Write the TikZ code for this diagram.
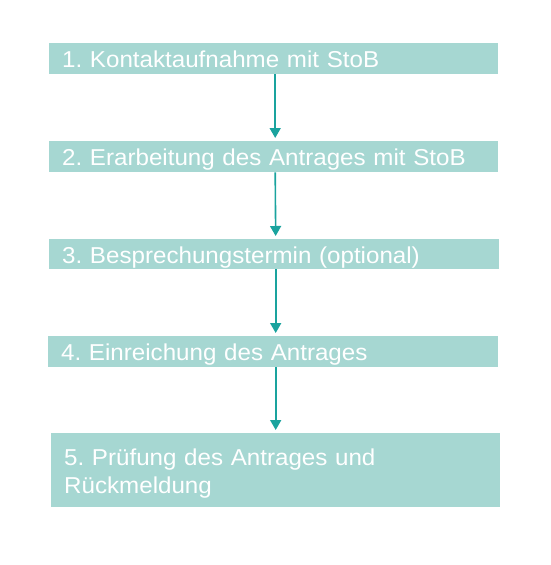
\documentclass[tikz,border=0pt]{standalone}
\usepackage{fontspec}
\setmainfont{Liberation Sans}[FakeStretch=1.05]
\usetikzlibrary{arrows.meta}
\definecolor{boxfill}{HTML}{A6D7D2}
\definecolor{arrowcol}{HTML}{1AA39E}
\begin{document}
\begin{tikzpicture}[x=1pt,y=-1pt,
  stepbox/.style={fill=boxfill, draw=none, anchor=north west, inner xsep=13pt, inner ysep=0pt,
    text=white, font=\fontsize{23}{28.3}\selectfont\frenchspacing, align=left},
  oneline/.style={text height=18pt, text depth=0pt},
  arr/.style={draw=arrowcol, line width=1.6pt, -{Triangle[width=11pt,length=10pt]}, shorten >=3pt}]
\useasboundingbox (0,0) rectangle (550,565);
\node[stepbox, oneline, minimum width=449pt, minimum height=31pt, text width=423pt] (b1) at (49,43) {1. Kontaktaufnahme mit StoB};
\node[stepbox, oneline, minimum width=449pt, minimum height=31pt, text width=423pt] (b2) at (49,141) {2. Erarbeitung des Antrages mit StoB};
\node[stepbox, oneline, minimum width=450pt, minimum height=30pt, text width=424pt] (b3) at (49,239) {3. Besprechungstermin (optional)};
\node[stepbox, oneline, minimum width=450pt, minimum height=31pt, text width=424pt] (b4) at (48,336) {4. Einreichung des Antrages};
\node[stepbox, minimum width=449pt, minimum height=74pt, text width=423pt, text height=20pt, text depth=29.2pt] (b5) at (51,433) {5. Prüfung des Antrages und\\Rückmeldung};
\draw[arr] ([xshift=1.5pt]b1.south) -- ([xshift=1.5pt]b2.north);
\draw[arr] ([xshift=1.5pt]b2.south) -- ([xshift=1.5pt]b3.north);
\draw[arr] ([xshift=1.5pt]b3.south) -- ([xshift=2.5pt]b4.north);
\draw[arr] ([xshift=2.5pt]b4.south) -- ([xshift=0pt]b5.north);
\end{tikzpicture}
\end{document}
